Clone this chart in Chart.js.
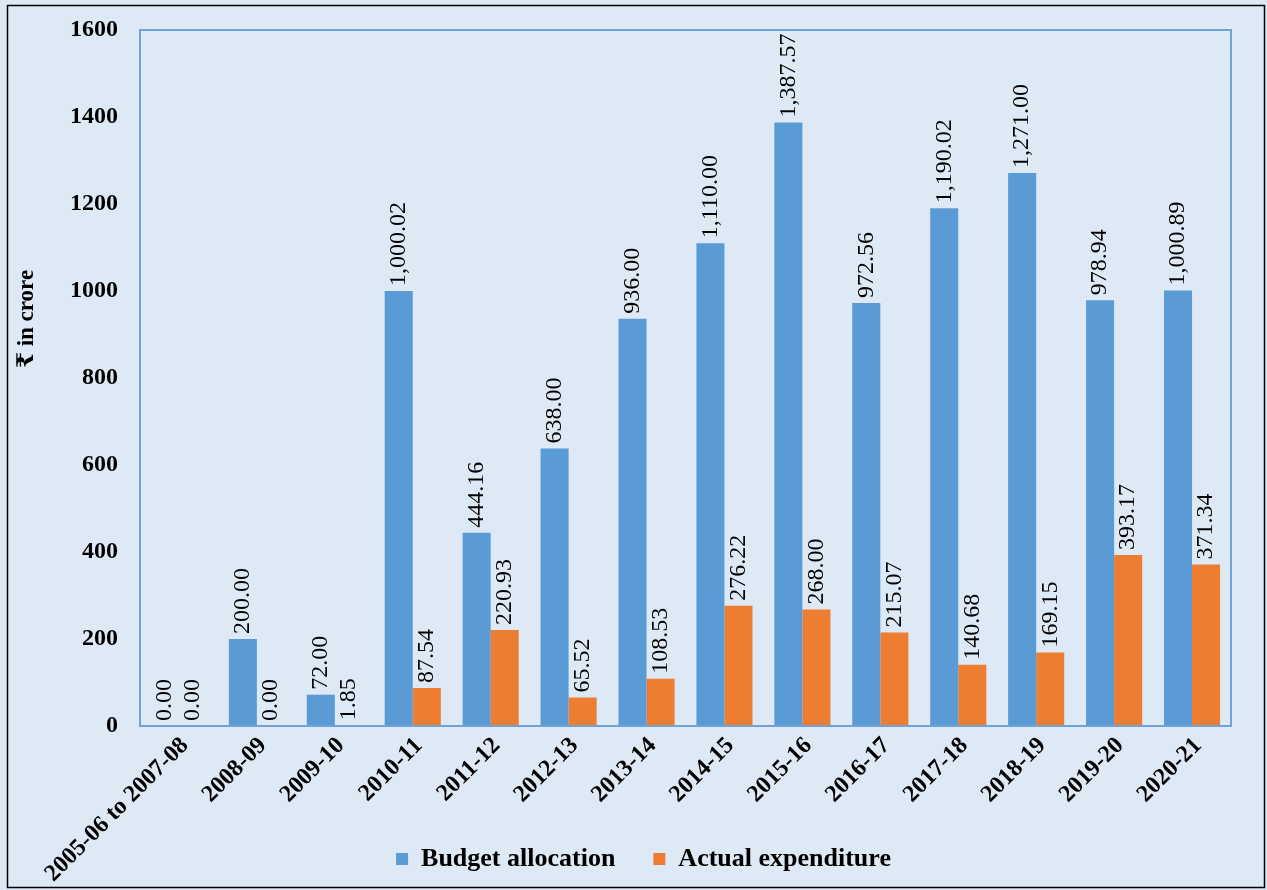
<!DOCTYPE html>
<html>
<head>
<meta charset="utf-8">
<script src="https://cdn.jsdelivr.net/npm/chart.js@4.4.1/dist/chart.umd.min.js"></script>
<style>
  html, body { margin: 0; padding: 0; background: #fff; }
  #wrap { width: 1267px; height: 890px; }
</style>
</head>
<body>
<div id="wrap"><canvas id="grafico" width="1267" height="890"></canvas></div>
<script>
// datos
const categorias = ["2005-06 to 2007-08", "2008-09", "2009-10", "2010-11", "2011-12", "2012-13",
  "2013-14", "2014-15", "2015-16", "2016-17", "2017-18", "2018-19", "2019-20", "2020-21"];
const presupuesto = [0, 200, 72, 1000.02, 444.16, 638, 936, 1110, 1387.57, 972.56, 1190.02, 1271, 978.94, 1000.89];
const gasto = [0, 0, 1.85, 87.54, 220.93, 65.52, 108.53, 276.22, 268, 215.07, 140.68, 169.15, 393.17, 371.34];
const ticksY = [0, 200, 400, 600, 800, 1000, 1200, 1400, 1600];

const SERIF = "'Times New Roman', 'Liberation Serif', 'DejaVu Serif', serif";

// fondo + borde exterior + borde del área
const fondo = {
  id: "fondo",
  afterLayout(chart) {
    // la leyenda del original está algo a la derecha
    chart.legend.left += 24;
    chart.legend.right += 24;
  },
  beforeDraw(chart) {
    const c = chart.ctx;
    c.save();
    c.fillStyle = "#dde9f5";
    c.fillRect(0, 0, chart.width, chart.height);
    c.strokeStyle = "#000";
    c.lineWidth = 1.5;
    c.strokeRect(7.5, 5.5, chart.width - 10, chart.height - 8);
    c.restore();
  },
  afterDatasetsDraw(chart) {
    const a = chart.chartArea;
    const c = chart.ctx;
    c.save();
    c.strokeStyle = "#6fa3d8";
    c.lineWidth = 2;
    c.strokeRect(a.left, a.top, a.right - a.left, a.bottom - a.top);
    c.restore();
  }
};

// etiquetas verticales, etiquetas del eje X y título del eje Y
const etiquetas = {
  id: "etiquetas",
  afterDatasetsDraw(chart) {
    const c = chart.ctx;
    c.save();
    c.font = "24px " + SERIF;
    c.fillStyle = "#000";
    c.textAlign = "left";
    c.textBaseline = "middle";
    chart.data.datasets.forEach((ds, i) => {
      chart.getDatasetMeta(i).data.forEach((bar, j) => {
        const txt = ds.data[j].toLocaleString("en-US", { minimumFractionDigits: 2, maximumFractionDigits: 2 });
        c.save();
        c.translate(bar.x, bar.y - 5);
        c.rotate(-Math.PI / 2);
        c.fillText(txt, 0, 0);
        c.restore();
      });
    });

    // eje X (sin recorte)
    const xs = chart.scales.x;
    c.font = "bold 24px " + SERIF;
    c.textAlign = "right";
    categorias.forEach((lab, j) => {
      c.save();
      c.translate(xs.getPixelForValue(j) + 6, chart.chartArea.bottom + 16);
      c.rotate(-Math.PI / 4);
      c.fillText(lab, 0, 0);
      c.restore();
    });

    // título del eje Y
    c.font = "bold 23px " + SERIF;
    c.textAlign = "center";
    c.translate(27, 319);
    c.rotate(-Math.PI / 2);
    c.fillText("₹ in crore", 0, 0);
    c.restore();
  }
};

new Chart(document.getElementById("grafico"), {
  type: "bar",
  data: {
    labels: categorias,
    datasets: [
      { label: "Budget allocation", data: presupuesto, backgroundColor: "#5b9bd5" },
      { label: "Actual expenditure", data: gasto, backgroundColor: "#ed7d31" }
    ]
  },
  options: {
    responsive: false,
    animation: false,
    devicePixelRatio: 1,
    layout: { padding: { left: 8, top: 30, right: 36, bottom: 8 } },
    datasets: { bar: { categoryPercentage: 0.72, barPercentage: 1.0 } },
    plugins: {
      tooltip: { enabled: false },
      legend: {
        position: "bottom",
        labels: {
          color: "#000",
          font: { family: SERIF, size: 26, weight: "bold" },
          boxWidth: 12,
          boxHeight: 12,
          padding: 38
        }
      }
    },
    scales: {
      x: {
        grid: { display: false },
        border: { display: false },
        ticks: { display: false },
        afterFit(scale) { scale.height = 82; }
      },
      y: {
        min: 0,
        max: 1600,
        afterBuildTicks(scale) { scale.ticks = ticksY.map(v => ({ value: v })); },
        grid: { display: false },
        border: { display: false },
        ticks: {
          color: "#000",
          font: { family: SERIF, size: 24, weight: "bold" },
          padding: 14,
          callback: v => String(v)
        },
        afterFit(scale) { scale.width = 132; }
      }
    }
  },
  plugins: [fondo, etiquetas]
});
</script>
</body>
</html>
